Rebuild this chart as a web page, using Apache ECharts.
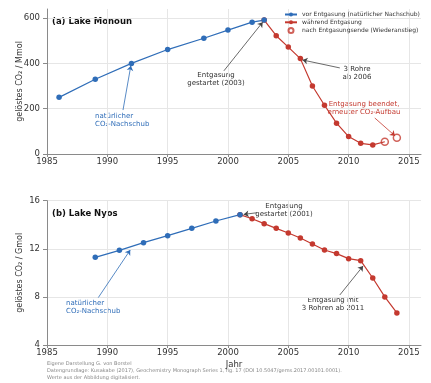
<!DOCTYPE html>
<html>
<head>
<meta charset="utf-8">
<script src="https://cdn.jsdelivr.net/npm/echarts@6/dist/echarts.min.js"></script>
<style>
  html, body { margin: 0; padding: 0; background: #fff; }
  #chart { width: 431px; height: 383px; }
</style>
</head>
<body>
<div id="chart"></div>
<script>
// Lake Monoun: dissolved CO2 (Mmol)
const monounBeforeYears = [1986, 1989, 1992, 1995, 1998, 2000, 2002, 2003];
const monounBefore = [250, 330, 400, 461, 511, 547, 582, 591];
const monounDuringYears = [2003, 2004, 2005, 2006, 2007, 2008, 2009, 2010, 2011, 2012, 2013];
const monounDuring = [591, 522, 472, 421, 300, 215, 136, 77, 47, 40, 54];
const monounAfterYears = [2013, 2014];
const monounAfter = [54, 72];

// Lake Nyos: dissolved CO2 (Gmol)
const nyosBeforeYears = [1989, 1991, 1993, 1995, 1997, 1999, 2001];
const nyosBefore = [11.29, 11.87, 12.51, 13.09, 13.7, 14.31, 14.84];
const nyosDuringYears = [2001, 2002, 2003, 2004, 2005, 2006, 2007, 2008, 2009, 2010, 2011, 2012, 2013, 2014];
const nyosDuring = [14.84, 14.5, 14.09, 13.7, 13.31, 12.9, 12.4, 11.9, 11.6, 11.18, 11.01, 9.57, 8.0, 6.67];

// Axis ticks
const yearTicks = [1985, 1990, 1995, 2000, 2005, 2010, 2015];
const monounTicks = [0, 200, 400, 600];
const nyosTicks = [4, 8, 12, 16];

const seriesNames = [
  'vor Entgasung (natürlicher Nachschub)',
  'während Entgasung',
  'nach Entgasungsende (Wiederanstieg)'
];

const BLUE = '#2f6db8';
const RED = '#c4392f';
const GRID = '#e6e6e6';
const AXIS = '#8a8a8a';
const FONT = 'DejaVu Sans';

const pairs = (xs, ys) => xs.map((x, i) => [x, ys[i]]);

function xAxis(gridIndex, name) {
  return {
    type: 'value', gridIndex, min: 1985, max: 2016, interval: 5,
    name: name || '', nameLocation: 'middle', nameGap: 15, nameMoveOverlap: false,
    nameTextStyle: { fontFamily: FONT, fontSize: 8.5, color: '#333' },
    axisLine: { show: true, lineStyle: { color: AXIS, width: 1 } },
    axisTick: { show: true, length: 3, lineStyle: { color: AXIS }, customValues: yearTicks },
    axisLabel: { fontFamily: FONT, fontSize: 8.5, color: '#333', margin: 3,
      customValues: yearTicks, formatter: v => String(v) },
    splitLine: { show: true, lineStyle: { color: [GRID, GRID, GRID, GRID, GRID, GRID, GRID, 'rgba(0,0,0,0)'], width: 1 } }
  };
}

function yAxis(gridIndex, min, max, interval, ticks, name) {
  const n = ticks.length + (max > ticks[ticks.length - 1] ? 1 : 0);
  const colors = [];
  for (let i = 0; i < n; i++) colors.push(i < ticks.length ? GRID : 'rgba(0,0,0,0)');
  return {
    type: 'value', gridIndex, min, max, interval,
    name, nameLocation: 'middle', nameGap: 23, nameRotate: 90, nameMoveOverlap: false,
    nameTextStyle: { fontFamily: FONT, fontSize: 8, color: '#333' },
    axisLine: { show: true, lineStyle: { color: AXIS, width: 1 } },
    axisTick: { show: true, length: 4, lineStyle: { color: AXIS }, customValues: ticks },
    axisLabel: { fontFamily: FONT, fontSize: 8.5, color: '#333', margin: 7,
      customValues: ticks, formatter: v => String(v) },
    splitLine: { show: true, lineStyle: { color: colors, width: 1 } }
  };
}

// Annotation arrows, anchored in data coordinates
function arrow(from, to, color) {
  return [
    { coord: from, symbol: 'none', lineStyle: { color, width: 0.8, type: 'solid' } },
    { coord: to, symbol: 'arrow', symbolSize: 5 }
  ];
}

function arrowSeries(id, gridIndex, arrows) {
  return {
    id, type: 'line', xAxisIndex: gridIndex, yAxisIndex: gridIndex, data: [],
    silent: true, animation: false,
    markLine: {
      silent: true, animation: false, symbol: ['none', 'arrow'], symbolSize: 5,
      label: { show: false }, data: arrows
    }
  };
}

const lineSeries = (name, data, color, xi) => ({
  name, type: 'line', xAxisIndex: xi, yAxisIndex: xi, data,
  symbol: 'circle', symbolSize: 5.5,
  lineStyle: { color, width: 1.2 },
  itemStyle: { color },
  animation: false, silent: true
});

// the last "during" point of Monoun is drawn as an open circle by the next series
const monounDuringData = pairs(monounDuringYears, monounDuring).map((p, i, arr) =>
  i === arr.length - 1 ? { value: p, symbolSize: 0 } : p);

const option = {
  animation: false,
  textStyle: { fontFamily: FONT },
  grid: [
    { left: 47, top: 9, width: 374, height: 145 },
    { left: 47, top: 200.7, width: 374, height: 144.3 }
  ],
  xAxis: [xAxis(0), xAxis(1, 'Jahr')],
  yAxis: [
    yAxis(0, 0, 640, 200, monounTicks, 'gelöstes CO₂ / Mmol'),
    yAxis(1, 4, 16, 4, nyosTicks, 'gelöstes CO₂ / Gmol')
  ],
  legend: {
    left: 284, top: 11.5, orient: 'vertical', padding: 0,
    itemWidth: 12, itemHeight: 5, itemGap: 1.8,
    textStyle: { fontFamily: FONT, fontSize: 6, color: '#333' },
    data: seriesNames
  },
  series: [
    lineSeries(seriesNames[1], monounDuringData, RED, 0),
    lineSeries(seriesNames[0], pairs(monounBeforeYears, monounBefore), BLUE, 0),
    {
      name: seriesNames[2], type: 'scatter', xAxisIndex: 0, yAxisIndex: 0,
      data: pairs(monounAfterYears, monounAfter),
      symbol: 'circle', symbolSize: 7,
      itemStyle: { color: '#fff', borderColor: RED, borderWidth: 1.5 },
      animation: false, silent: true
    },
    lineSeries('nyosDuring', pairs(nyosDuringYears, nyosDuring), RED, 1),
    lineSeries('nyosBefore', pairs(nyosBeforeYears, nyosBefore), BLUE, 1),
    arrowSeries('arrowsMonoun', 0, [
      arrow([1991.3, 194], [1991.95, 390], BLUE),
      arrow([1999.66, 367], [2002.88, 582], '#444'),
      arrow([2009.27, 380], [2006.18, 415], '#444'),
      arrow([2012.17, 159], [2013.85, 80], RED)
    ]),
    arrowSeries('arrowsNyos', 1, [
      arrow([1989.25, 7.94], [1991.9, 11.9], BLUE),
      arrow([2002.4, 15.0], [2001.3, 14.86], '#444'),
      arrow([2009.27, 8.16], [2011.2, 10.57], '#444')
    ])
  ],
  graphic: [
    { type: 'text', left: 52, top: 17, style: { text: '(a) Lake Monoun', font: 'bold 8.5px "DejaVu Sans"', fill: '#111' } },
    { type: 'text', left: 52, top: 209, style: { text: '(b) Lake Nyos', font: 'bold 8.5px "DejaVu Sans"', fill: '#111' } },

    { type: 'text', left: 95, top: 112, style: { text: 'natürlicher\nCO₂-Nachschub', font: '7px "DejaVu Sans"', fill: BLUE, lineHeight: 8 } },
    { type: 'text', x: 216, y: 71, style: { text: 'Entgasung\ngestartet (2003)', font: '7px "DejaVu Sans"', fill: '#333', align: 'center', lineHeight: 8 } },
    { type: 'text', x: 357, y: 65, style: { text: '3 Rohre\nab 2006', font: '7px "DejaVu Sans"', fill: '#333', align: 'center', lineHeight: 8 } },
    { type: 'text', x: 364, y: 100, style: { text: 'Entgasung beendet,\nerneuter CO₂-Aufbau', font: '7px "DejaVu Sans"', fill: RED, align: 'center', lineHeight: 8 } },

    { type: 'text', left: 66, top: 299, style: { text: 'natürlicher\nCO₂-Nachschub', font: '7px "DejaVu Sans"', fill: BLUE, lineHeight: 8 } },
    { type: 'text', x: 284, y: 202, style: { text: 'Entgasung\ngestartet (2001)', font: '7px "DejaVu Sans"', fill: '#333', align: 'center', lineHeight: 8 } },
    { type: 'text', x: 333, y: 296, style: { text: 'Entgasung mit\n3 Rohren ab 2011', font: '7px "DejaVu Sans"', fill: '#333', align: 'center', lineHeight: 8 } },

    { type: 'text', left: 47, top: 360, style: {
      text: 'Eigene Darstellung G. von Borstel\nDatengrundlage: Kusakabe (2017), Geochemistry Monograph Series 1, fig. 17 (DOI 10.5047/gems.2017.00101.0001).\nWerte aus der Abbildung digitalisiert.',
      font: '5px "DejaVu Sans"', fill: '#888', lineHeight: 7 } }
  ]
};

const chart = echarts.init(document.getElementById('chart'), null, { renderer: 'canvas' });
chart.setOption(option);
</script>
</body>
</html>
